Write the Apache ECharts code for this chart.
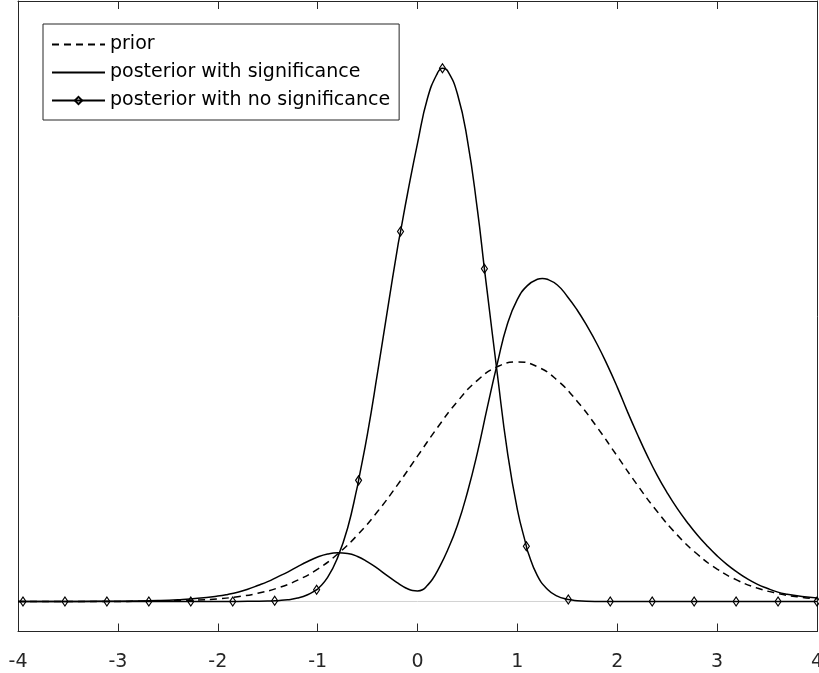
<!DOCTYPE html>
<html>
<head>
<meta charset="utf-8">
<script src="https://cdn.jsdelivr.net/npm/echarts@6/dist/echarts.min.js"></script>
<style>
html,body{margin:0;padding:0;background:#fff;}
#chart{width:819px;height:673px;}
</style>
</head>
<body>
<div id="chart"></div>
<script>
// x tick labels
var xTicks = [-4, -3, -2, -1, 0, 1, 2, 3, 4];

// prior (dashed)
var priorX = [-4.0,-3.8,-3.6,-3.4,-3.2,-3.0,-2.8,-2.6,-2.4,-2.2,-2.0,-1.8,-1.6,-1.4,-1.2,-1.0,-0.8,-0.6,-0.4,-0.2,0.0,0.2,0.4,0.6,0.8,1.0,1.2,1.4,1.6,1.8,2.0,2.2,2.4,2.6,2.8,3.0,3.2,3.4,3.6,3.8,4.0];
var priorY = [0.0000,0.0000,0.0000,0.0001,0.0001,0.0001,0.0003,0.0006,0.0012,0.0024,0.0044,0.0079,0.0136,0.0224,0.0355,0.0540,0.0790,0.1109,0.1497,0.1942,0.2420,0.2897,0.3332,0.3683,0.3910,0.3989,0.3910,0.3683,0.3332,0.2897,0.2420,0.1942,0.1497,0.1109,0.0790,0.0540,0.0355,0.0224,0.0136,0.0079,0.0044];

// posterior with significance (solid)
var sigX = [-4.0,-3.6,-3.2,-2.8,-2.6,-2.4,-2.2,-2.0,-1.9,-1.8,-1.7,-1.6,-1.5,-1.4,-1.3,-1.2,-1.1,-1.0,-0.9,-0.8,-0.7,-0.6,-0.5,-0.4,-0.3,-0.2,-0.15,-0.1,-0.05,0.0,0.05,0.1,0.15,0.2,0.3,0.4,0.5,0.6,0.7,0.8,0.9,1.0,1.1,1.2,1.25,1.3,1.4,1.5,1.6,1.7,1.8,1.9,2.0,2.1,2.2,2.3,2.4,2.5,2.6,2.7,2.8,2.9,3.0,3.1,3.2,3.3,3.4,3.5,3.6,3.7,3.8,3.9,4.0];
var sigY = [0.0000,0.0001,0.0003,0.0008,0.0015,0.0029,0.0052,0.0090,0.0118,0.0155,0.0205,0.0265,0.0330,0.0410,0.0490,0.0580,0.0665,0.0740,0.0790,0.0810,0.0800,0.0750,0.0660,0.0550,0.0425,0.0310,0.0255,0.0212,0.0184,0.0176,0.0195,0.0270,0.0370,0.0510,0.0850,0.1270,0.1820,0.2480,0.3240,0.3970,0.4620,0.5030,0.5260,0.5365,0.5380,0.5365,0.5270,0.5080,0.4850,0.4580,0.4280,0.3940,0.3570,0.3170,0.2790,0.2430,0.2100,0.1810,0.1550,0.1320,0.1110,0.0925,0.0760,0.0615,0.0490,0.0380,0.0290,0.0220,0.0160,0.0120,0.0095,0.0075,0.0060];

// posterior with no significance (solid with diamonds)
var noSigX = [-4.0,-3.0,-2.0,-1.8,-1.6,-1.5,-1.4,-1.3,-1.2,-1.1,-1.0,-0.9,-0.8,-0.7,-0.6,-0.5,-0.4,-0.3,-0.2,-0.1,0.0,0.1,0.2,0.3,0.4,0.5,0.6,0.7,0.8,0.9,1.0,1.1,1.2,1.3,1.4,1.5,1.6,1.8,2.0,3.0];
var noSigY = [0,0,0,0.0001,0.0003,0.0006,0.0014,0.0029,0.0057,0.0112,0.0205,0.0400,0.0730,0.1220,0.1930,0.2800,0.3810,0.4860,0.5890,0.6790,0.7630,0.8380,0.8800,0.8840,0.8450,0.7680,0.6520,0.5130,0.3780,0.2490,0.1530,0.0850,0.0430,0.0205,0.0089,0.0036,0.0013,0.0001,0,0];
// diamond marker positions on that curve
var markX = [-3.95,-3.53,-3.11,-2.69,-2.27,-1.85,-1.43,-1.01,-0.59,-0.17,0.25,0.67,1.09,1.51,1.93,2.35,2.77,3.19,3.61,4.0];
var markY = [0,0,0,0,0,0,0.0011,0.0195,0.2017,0.6160,0.8880,0.5540,0.0920,0.0034,0,0,0,0,0,0];

var legendNames = ['prior', 'posterior with significance', 'posterior with no significance'];

function zip(xs, ys) { return xs.map(function (x, i) { return [x, ys[i]]; }); }

var noSigData = [];
noSigX.forEach(function (x, i) { noSigData.push({ value: [x, noSigY[i]], symbol: 'none' }); });
markX.forEach(function (x, i) { noSigData.push({ value: [x, markY[i]] }); });
noSigData.sort(function (a, b) { return a.value[0] - b.value[0]; });

var FONT = 'DejaVu Sans';
var AX = '#262626';
var hidden = { color: 'rgba(0,0,0,0)', borderWidth: 0 };

var chart = echarts.init(document.getElementById('chart'));
chart.setOption({
  animation: false,
  backgroundColor: '#fff',
  grid: { left: 18, right: 2, top: 1, bottom: 41.5, containLabel: false, outerBoundsMode: 'none' },
  legend: {
    data: [
      { name: legendNames[0], itemStyle: hidden },
      { name: legendNames[1], itemStyle: hidden },
      { name: legendNames[2] }
    ],
    orient: 'vertical',
    left: 43,
    top: 24,
    itemWidth: 53,
    itemHeight: 9,
    itemGap: 9,
    padding: [11, 9, 10, 8],
    borderColor: AX,
    borderWidth: 1,
    backgroundColor: '#fff',
    textStyle: { fontFamily: FONT, fontSize: 19, color: '#000' },
    selectedMode: false
  },
  xAxis: [
    {
      type: 'value', min: -4, max: 4, interval: 1, position: 'bottom',
      axisLine: { show: true, onZero: false, lineStyle: { color: AX, width: 1 } },
      axisTick: { show: true, inside: true, length: 8, lineStyle: { color: AX, width: 1 } },
      axisLabel: {
        show: true, margin: 21, color: AX, fontFamily: FONT, fontSize: 19,
        formatter: function (v) { return xTicks.indexOf(v) >= 0 ? String(v) : ''; }
      },
      splitLine: { show: false }
    },
    {
      type: 'value', min: -4, max: 4, interval: 1, position: 'top',
      axisLine: { show: true, onZero: false, lineStyle: { color: AX, width: 1 } },
      axisTick: { show: true, inside: true, length: 8, lineStyle: { color: AX, width: 1 } },
      axisLabel: { show: false },
      splitLine: { show: false }
    }
  ],
  yAxis: [
    {
      type: 'value', min: -0.05, max: 1.0, position: 'left',
      axisLine: { show: true, onZero: false, lineStyle: { color: AX, width: 1 } },
      axisTick: { show: false }, axisLabel: { show: false }, splitLine: { show: false }
    },
    {
      type: 'value', min: -0.05, max: 1.0, position: 'right',
      axisLine: { show: true, onZero: false, lineStyle: { color: AX, width: 1 } },
      axisTick: { show: false }, axisLabel: { show: false }, splitLine: { show: false }
    }
  ],
  series: [
    {
      name: 'baseline', type: 'line', silent: true, z: 1,
      data: [[-4, 0], [4, 0]], showSymbol: false, symbol: 'none',
      lineStyle: { color: '#d2d2d2', width: 1 }, itemStyle: { color: '#d2d2d2' }
    },
    {
      name: legendNames[0], type: 'line', z: 3,
      data: zip(priorX, priorY), smooth: 0.5, symbol: 'none',
      lineStyle: { color: '#000', width: 1.5, type: [7, 5] }, itemStyle: { color: '#000' }
    },
    {
      name: legendNames[1], type: 'line', z: 3,
      data: zip(sigX, sigY), smooth: 0.5, symbol: 'none',
      lineStyle: { color: '#000', width: 1.5 }, itemStyle: { color: '#000' }
    },
    {
      name: legendNames[2], type: 'line', z: 4,
      data: noSigData, smooth: 0.5,
      symbol: 'diamond', symbolSize: [6, 9], showAllSymbol: true,
      lineStyle: { color: '#000', width: 1.5 },
      itemStyle: { color: 'rgba(255,255,255,0)', borderColor: '#000', borderWidth: 1.2 }
    }
  ]
});
</script>
</body>
</html>
